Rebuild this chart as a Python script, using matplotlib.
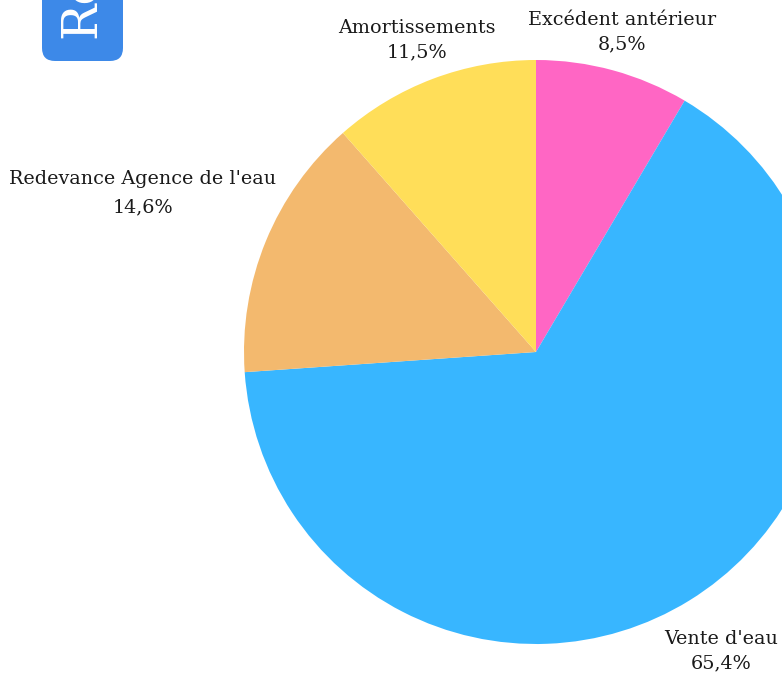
import matplotlib.pyplot as plt
from matplotlib.patches import FancyBboxPatch

labels = ["Excédent antérieur", "Vente d'eau", "Redevance Agence de l'eau", "Amortissements"]
shares = [8.5, 65.4, 14.6, 11.5]
colors = ["#ff66c4", "#38b6ff", "#f3b96e", "#ffde59"]
title = "Recettes"

W, H = 782, 673
fig = plt.figure(figsize=(W / 100, H / 100), dpi=100)
ax = fig.add_axes([0, 0, 1, 1])

# pie in pixel coordinates (y up)
cx, cy, r = 536, H - 352, 292
wedges, _ = ax.pie(shares, colors=colors, startangle=90, counterclock=False,
                   center=(cx, cy), radius=r, wedgeprops=dict(linewidth=0))

font = "DejaVu Serif"
label_pos = [(622, 32), (721, 651), (143, 193), (417, 40)]
spacing = [1.42, 1.42, 1.78, 1.42]
for lab, val, (lx, ly), ls in zip(labels, shares, label_pos, spacing):
    txt = f"{lab}\n{val:.1f}%".replace(".", ",")
    ax.text(lx, H - ly, txt, ha="center", va="center", fontsize=13.8,
            family=font, color="#1a1a1a", linespacing=ls)

# title tab, clipped at the top
box = FancyBboxPatch((42, H - 61), 81, 100, boxstyle="round,pad=0,rounding_size=13",
                     facecolor="#3d89e8", edgecolor="none")
ax.add_patch(box)
ax.text(81, H - 38, title, rotation=90, ha="center", va="bottom", fontsize=35,
        family=font, color="white")

ax.set_xlim(0, W)
ax.set_ylim(0, H)
ax.set_aspect("auto")
ax.axis("off")

fig.savefig("out.png", dpi=100)
